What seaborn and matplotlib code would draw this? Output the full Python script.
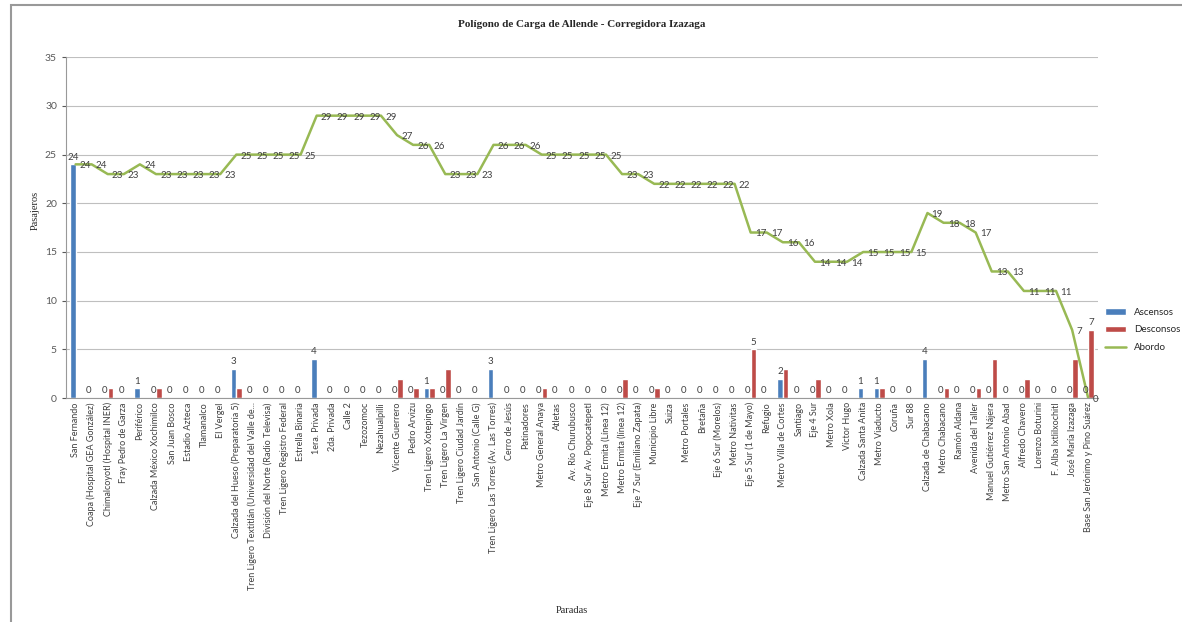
import numpy as np
import pandas as pd
import seaborn as sns
import matplotlib.pyplot as plt
from matplotlib.patches import Rectangle

# Paradas de la ruta
paradas = [
    "San Fernando", "Coapa (Hospital GEA González)", "Chimalcoyotl (Hospital INER)",
    "Fray Pedro de Garza", "Periférico", "Calzada México Xochimilco", "San Juan Bosco",
    "Estadio Azteca", "Tlamanalco", "El Vergel", "Calzada del Hueso (Preparatoria 5)",
    "Tren Ligero Textitlán (Universidad del Valle de...", "División del Norte (Radio Televisa)",
    "Tren Ligero Registro Federal", "Estrella Binaria", "1era. Privada", "2da. Privada",
    "Calle 2", "Tezozomoc", "Nezahualpilli", "Vicente Guerrero", "Pedro Arvizu",
    "Tren Ligero Xotepingo", "Tren Ligero La Virgen", "Tren Ligero Ciudad Jardín",
    "San Antonio (Calle G)", "Tren Ligero Las Torres (Av. Las Torres)", "Cerro de Jesús",
    "Patinadores", "Metro General Anaya", "Atletas", "Av. Río Churubusco",
    "Eje 8 Sur Av. Popocatepetl", "Metro Ermita (Línea 12)", "Metro Ermita (línea 12)",
    "Eje 7 Sur (Emiliano Zapata)", "Municipio Libre", "Suiza", "Metro Portales", "Bretaña",
    "Eje 6 Sur (Morelos)", "Metro Nativitas", "Eje 5 Sur (1 de Mayo)", "Refugio",
    "Metro Villa de Cortes", "Santiago", "Eje 4 Sur", "Metro Xola", "Víctor Hugo",
    "Calzada Santa Anita", "Metro Viaducto", "Coruña", "Sur 88", "Calzada de Chabacano",
    "Metro Chabacano", "Ramón Aldana", "Avenida del Taller", "Manuel Gutiérrez Nájera",
    "Metro San Antonio Abad", "Alfredo Chavero", "Lorenzo Boturini", "F. Alba Ixtlilxochitl",
    "José María Izazaga", "Base San Jerónimo y Pino Suárez",
]

ascensos = [24, 0, 0, 0, 1, 0, 0, 0, 0, 0, 3, 0, 0, 0, 0, 4, 0, 0, 0, 0, 0, 0, 1, 0, 0, 0,
            3, 0, 0, 0, 0, 0, 0, 0, 0, 0, 0, 0, 0, 0, 0, 0, 0, 0, 2, 0, 0, 0, 0, 1, 1, 0,
            0, 4, 0, 0, 0, 0, 0, 0, 0, 0, 0, 0]
descensos = [0, 0, 1, 0, 0, 1, 0, 0, 0, 0, 1, 0, 0, 0, 0, 0, 0, 0, 0, 0, 2, 1, 1, 3, 0, 0,
             0, 0, 0, 1, 0, 0, 0, 0, 2, 0, 1, 0, 0, 0, 0, 0, 5, 0, 3, 0, 2, 0, 0, 0, 1, 0,
             0, 0, 1, 0, 1, 4, 0, 2, 0, 0, 4, 7]
abordo = [24, 24, 23, 23, 24, 23, 23, 23, 23, 23, 25, 25, 25, 25, 25, 29, 29, 29, 29, 29,
          27, 26, 26, 23, 23, 23, 26, 26, 26, 25, 25, 25, 25, 25, 23, 23, 22, 22, 22, 22,
          22, 22, 17, 17, 16, 16, 14, 14, 14, 15, 15, 15, 15, 19, 18, 18, 17, 13, 13, 11,
          11, 11, 7, 0]

# only these descensos carry a label in the original
desc_con_etiqueta = ["Eje 5 Sur (1 de Mayo)", "Base San Jerónimo y Pino Suárez"]

n = len(paradas)
df = pd.DataFrame({
    "Parada": paradas * 2,
    "Serie": ["Ascensos"] * n + ["Desconsos"] * n,
    "Pasajeros": ascensos + descensos,
})

sns.set_style("white")
plt.rcParams["font.family"] = ["Lato", "DejaVu Sans"]

fig = plt.figure(figsize=(11.82, 6.22), dpi=100)
ax = fig.add_axes([0.0558, 0.36, 0.873, 0.548])

sns.barplot(data=df, x="Parada", y="Pasajeros", hue="Serie",
            palette=["#4A7EBB", "#BE4B48"], saturation=1, width=0.7, ax=ax, legend=True)
sns.lineplot(x=np.arange(n), y=abordo, color="#98B954", linewidth=1.8,
             label="Abordo", ax=ax)

# etiquetas de barras
ax.bar_label(ax.containers[0], labels=[str(v) for v in ascensos],
             padding=2, fontsize=7, color="#404040")
ax.bar_label(ax.containers[1],
             labels=[str(v) if p in desc_con_etiqueta else "" for p, v in zip(paradas, descensos)],
             padding=2, fontsize=7, color="#404040")

# etiquetas de la linea
for i, v in enumerate(abordo):
    ax.annotate(str(v), (i, v), xytext=(3, -1), textcoords="offset points",
                ha="left", va="center", fontsize=7, color="#404040")

ax.set_ylim(0, 35)
ax.set_xlim(-0.6, n - 0.4)
ax.set_yticks(range(0, 36, 5))
ax.yaxis.grid(True, color="#BFBFBF", linewidth=0.8)
ax.set_axisbelow(True)
for s in ["top", "right"]:
    ax.spines[s].set_visible(False)
for s in ["left", "bottom"]:
    ax.spines[s].set_color("#999999")
ax.tick_params(axis="y", labelsize=7.5, colors="#595959", length=3, left=True)
ax.tick_params(axis="x", labelsize=6.5, colors="#404040", length=0, pad=3)
ax.set_xticks(range(n))
ax.set_xticklabels(paradas, rotation=90)

ax.set_xlabel("Paradas", family="Liberation Serif", fontsize=7.5)
ax.set_ylabel("Pasajeros", family="Liberation Serif", fontsize=7.5)
ax.xaxis.set_label_coords(0.49, -0.61)
ax.yaxis.set_label_coords(-0.025, 0.55)
ax.set_title("Polígono de Carga de Allende - Corregidora Izazaga",
             family="Liberation Serif", fontweight="bold", fontsize=8, pad=22)

handles, labels = ax.get_legend_handles_labels()
ax.legend(handles, labels, loc="center left", bbox_to_anchor=(1.0, 0.2),
          frameon=False, fontsize=7, handlelength=2.2, labelspacing=0.9,
          borderaxespad=0.3)

# marco de la figura
fig.patches.append(Rectangle((0.009, -0.01), 1.2, 1.002, transform=fig.transFigure,
                             fill=False, edgecolor="#999999", linewidth=1.5))

fig.savefig("out.png", dpi=100)
